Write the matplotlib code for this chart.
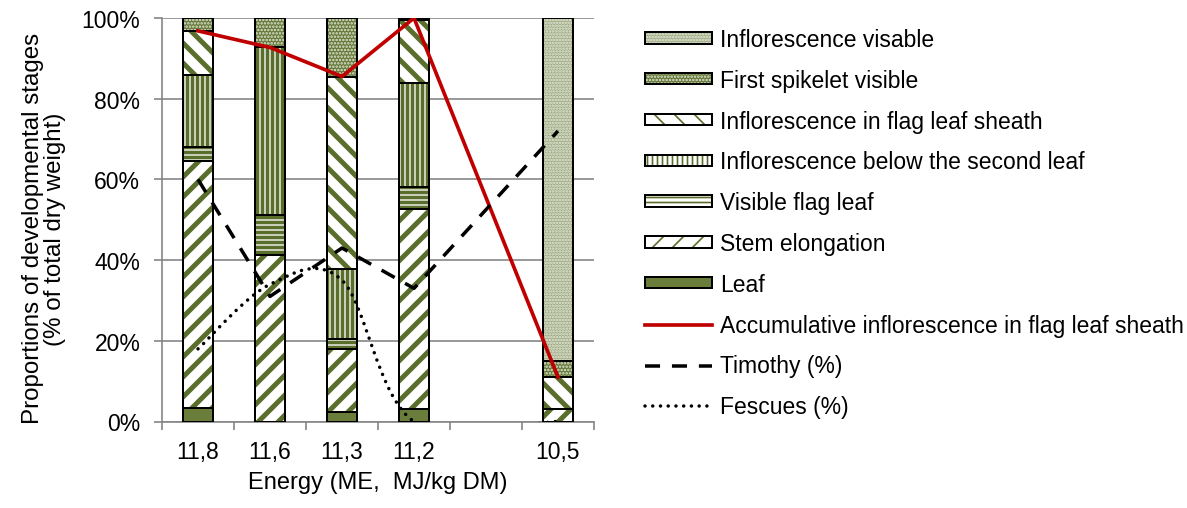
import numpy as np
import matplotlib
matplotlib.use('Agg')
import matplotlib.pyplot as plt
from matplotlib.patches import Patch, PathPatch
from matplotlib.path import Path
from matplotlib.lines import Line2D
from matplotlib.legend_handler import HandlerTuple
from matplotlib.ticker import FuncFormatter

plt.rcParams['font.family'] = ['Liberation Sans', 'DejaVu Sans']

# ---------------- data ----------------
categories = ['11,8', '11,6', '11,3', '11,2', '', '10,5']
leaf = [3.3, 0, 2.3, 3.1, 0, 0]
stem_elongation = [61.2, 41.3, 15.7, 49.6, 0, 3.2]
visible_flag_leaf = [3.6, 9.9, 2.5, 5.5, 0, 0]
below_second_leaf = [17.8, 41.5, 17.3, 25.7, 0, 0]
in_flag_leaf_sheath = [10.9, 0, 47.7, 15.6, 0, 7.8]
first_spikelet = [3.2, 7.3, 14.5, 0.5, 0, 4.1]
inflorescence_visable = [0, 0, 0, 0, 0, 84.9]
accumulative = [96.8, 92.7, 85.5, 100, np.nan, 11.0]
timothy = [60, 31, 43, 33, np.nan, 72]
fescues = [18, 34, 35, 0, np.nan, 0]

stage_labels = ['Leaf', 'Stem elongation', 'Visible flag leaf',
                'Inflorescence below the second leaf',
                'Inflorescence in flag leaf sheath',
                'First spikelet visible', 'Inflorescence visable']
stage_values = [leaf, stem_elongation, visible_flag_leaf, below_second_leaf,
                in_flag_leaf_sheath, first_spikelet, inflorescence_visable]

GREEN = '#5a6e2c'
LEAF = '#6b7d3a'
# face, hatch colour, hatch, hatch linewidth
stage_styles = [
    (LEAF, LEAF, None, 1.0),
    ('white', GREEN, '//', 3.0),
    ('white', GREEN, '----', 2.2),
    ('white', GREEN, '||||', 2.2),
    ('white', GREEN, '\\\\', 3.0),
    ('#65783a', '#e2e7d4', '......', 1.0),
    ('#a2ad87', '#e6eadb', '.......', 1.0),
]

DPI = 120
fig = plt.figure(figsize=(1187 / DPI, 509 / DPI), dpi=DPI)
ax = fig.add_axes([162 / 1187, 1 - 422.5 / 509, (594 - 162) / 1187, (422.5 - 19) / 509])

FS = 13.7
x = np.arange(len(categories))
present = np.array([c != '' for c in categories])
xb = x[present]
width = 0.42
bottom = np.zeros(len(xb))
legend_bar_handles = []
for vals, (face, hcol, hatch, hlw) in zip(stage_values, stage_styles):
    vals = np.array(vals, dtype=float)[present]
    with plt.rc_context({'hatch.linewidth': hlw}):
        bars = ax.bar(xb, vals, width, bottom=bottom, color=face, edgecolor=hcol,
                      hatch=hatch, linewidth=0, zorder=2)
        for b in bars:
            if hasattr(b, 'set_hatch_linewidth'):
                b.set_hatch_linewidth(hlw)
        hp = Patch(facecolor=face, edgecolor=hcol, hatch=hatch, linewidth=0)
        if hasattr(hp, 'set_hatch_linewidth'):
            hp.set_hatch_linewidth(hlw)
    ax.bar(xb, vals, width, bottom=bottom, fill=False, edgecolor='black',
           linewidth=1.2, zorder=3)
    op = Patch(fill=False, edgecolor='black', linewidth=1.2)
    legend_bar_handles.append((hp, op))
    bottom = bottom + vals

# lines (connect across the empty category)
def valid(vals):
    v = np.array(vals, dtype=float)
    m = ~np.isnan(v)
    return x[m], v[m]

xa, ya = valid(accumulative)
ax.plot(xa, ya, color='#c00000', lw=2.2, zorder=5, solid_joinstyle='miter')
xt, yt = valid(timothy)
dash_style = (0, (4.3, 3.4))
ax.plot(xt, yt, color='black', lw=2.1, linestyle=dash_style, zorder=5)

def smooth_path(xs, ys):
    verts = [(xs[0], ys[0])]
    codes = [Path.MOVETO]
    n = len(xs)
    for i in range(n - 1):
        x0, y0 = xs[i], ys[i]
        x1, y1 = xs[i + 1], ys[i + 1]
        xp, yp = (xs[i - 1], ys[i - 1]) if i > 0 else (x0, y0)
        xn, yn = (xs[i + 2], ys[i + 2]) if i + 2 < n else (x1, y1)
        c1 = (x0 + (x1 - xp) / 6, y0 + (y1 - yp) / 6)
        c2 = (x1 - (xn - x0) / 6, y1 - (yn - y0) / 6)
        verts += [c1, c2, (x1, y1)]
        codes += [Path.CURVE4] * 3
    return Path(verts, codes)

xf, yf = valid(fescues)
dot_style = (0, (0.01, 2.2))
pp = PathPatch(smooth_path(xf, yf), fill=False, edgecolor='black', lw=2.1,
               linestyle=dot_style, capstyle='round', zorder=5)
ax.add_patch(pp)

# axes styling
GRAY = '#868686'
ax.set_xlim(-0.5, len(categories) - 0.5)
ax.set_ylim(0, 100)
ax.set_yticks(np.arange(0, 101, 20))
ax.yaxis.set_major_formatter(FuncFormatter(lambda v, p: f'{v:.0f}%'))
ax.yaxis.grid(True, color=GRAY, lw=1.0, zorder=0)
ax.set_axisbelow(True)
for s in ['top', 'right']:
    ax.spines[s].set_visible(False)
for s in ['left', 'bottom']:
    ax.spines[s].set_color(GRAY)
    ax.spines[s].set_linewidth(1.0)
ax.set_xticks(x)
ax.set_xticklabels(categories)
ax.set_xticks(np.arange(-0.5, len(categories), 1.0), minor=True)
ax.tick_params(axis='x', which='major', length=0, pad=11, labelsize=FS)
ax.tick_params(axis='x', which='minor', length=5, color=GRAY, width=1.0)
ax.tick_params(axis='y', length=5, color=GRAY, width=1.0, pad=8, labelsize=FS)
ax.set_xlabel('Energy (ME,  MJ/kg DM)', fontsize=14.2, labelpad=5)
ax.set_ylabel('Proportions of developmental stages\n(% of total dry weight)',
              fontsize=14.5, linespacing=1.0)
ax.yaxis.set_label_coords(-0.222, 0.48)

# legend
handles = legend_bar_handles[::-1] + [
    Line2D([], [], color='#c00000', lw=2.2),
    Line2D([], [], color='black', lw=2.1, linestyle=dash_style),
    Line2D([], [], color='black', lw=2.1, linestyle=dot_style, dash_capstyle='round'),
]
labels = stage_labels[::-1] + ['Accumulative inflorescence in flag leaf sheath',
                               'Timothy (%)', 'Fescues (%)']
fig.legend(handles, labels, loc='upper left', bbox_to_anchor=(645 / 1187, 1 - 29 / 509),
           bbox_transform=fig.transFigure, frameon=False, fontsize=FS,
           handlelength=2.95, handleheight=0.4, handletextpad=0.35,
           labelspacing=0.78, borderpad=0, borderaxespad=0,
           handler_map={tuple: HandlerTuple(ndivide=1, pad=0)})

fig.savefig('out.png', dpi=DPI)
